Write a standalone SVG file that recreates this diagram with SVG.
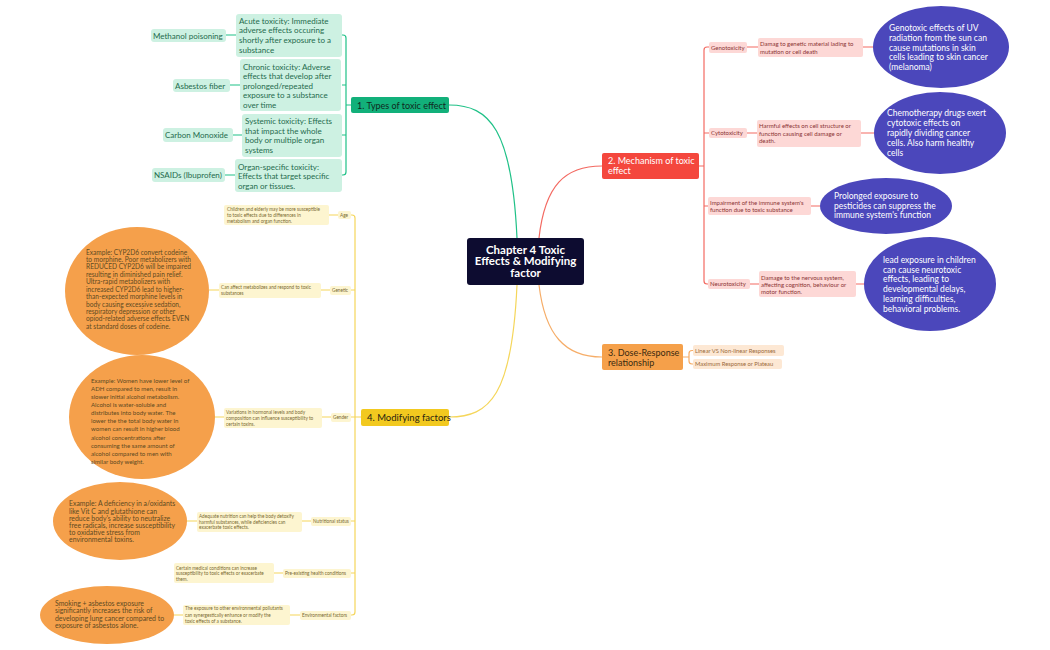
<svg xmlns="http://www.w3.org/2000/svg" width="1050" height="650" viewBox="0 0 1050 650">
<style>
text{font-family:Lato,"Noto Sans","Liberation Sans",sans-serif}
.ln{fill:none;stroke-width:1.2}
.g{stroke:#1fc187}.r{stroke:#f36a62}.o{stroke:#f6ad68}.y{stroke:#f5d65a}
.gb{fill:#12b07a}.gl{fill:#cdf1e2}.gt{fill:#1f6b4d;font-size:8px}
.rb{fill:#f4473d}.rl{fill:#fdd8d6}.rt{fill:#8b3434;font-size:6px}
.ob{fill:#f5a04a}.ol{fill:#fde8d4}.ot{fill:#9a6a3a;font-size:5.8px}
.yb{fill:#f2c91f}.yl{fill:#fdf5d0}.yt{fill:#7a6a30;font-size:4.7px}
.bt{font-size:9px}
.pe{fill:#4b47bb}.pt{fill:#ffffff;font-size:8.5px}
.oe{fill:#f5a04b}.et{fill:#5e4a22;font-size:6.1px}
</style>
<rect width="1050" height="650" fill="#ffffff"/>
<g id="connectors">
<path class="ln g" d="M517,238 C512,130 490,105 449,105"/>
<path class="ln r" d="M539,238 C545,185 565,166 602,166"/>
<path class="ln o" d="M539,285 C545,335 565,357 602,357"/>
<path class="ln y" d="M517,285 C512,395 490,417 449,417"/>
<path class="ln g" d="M342,35 h1 q3,0 3,3 V172 q0,3 -3,3 h-1 M342,85 H346 M342,135 H346 M346,105 H351 M226,35 H236 M230,85 H240 M233,135 H242 M225,175 H235"/>
<path class="ln r" d="M709,47 h-2 q-3,0 -3,3 V281 q0,3 3,3 h1 M704,133 H709 M704,206 H708 M699,166 H704 M747,47 H758 M747,133 H757 M750,284 H759 M863,47 H873 M861,133 H874 M811,206 H820 M856,284 H865"/>
<path class="ln o" d="M693,350.5 h-1 q-3,0 -3,3 V361 q0,3 3,3 h1 M683,357 H689"/>
<path class="ln y" d="M351,215 h1 q3,0 3,3 V612 q0,3 -3,3 h-1 M351,290 H355 M351,417 H355 M351,521 H355 M351,573 H355 M355,417 H361 M329,215 H338 M321,290 H330 M219,290 H209 M322,417 H331 M224,417 H215 M302,521 H311 M197,521 H187 M274,573 H283 M290,615 H300 M183,615 H174"/>
</g>
<g id="center">
<rect x="467" y="238" width="117" height="47" rx="3" fill="#0d0c30"/>
<text fill="#ffffff" font-size="11.5" font-weight="bold" text-anchor="middle"><tspan x="525.5" y="253.5">Chapter 4 Toxic</tspan><tspan x="525.5" y="265">Effects &amp; Modifying</tspan><tspan x="525.5" y="276.7">factor</tspan></text>
</g>
<g id="types">
<rect class="gb" x="351" y="97" width="98" height="16" rx="2"/>
<text class="bt" fill="#10291d" x="357" y="108.5">1. Types of toxic effect</text>
</g>
<g id="acute">
<rect class="gl" x="236" y="14" width="106" height="43" rx="3"/>
<text class="gt"><tspan x="239" y="23.5">Acute toxicity: Immediate</tspan><tspan x="239" y="33.3">adverse effects occuring</tspan><tspan x="239" y="43">shortly after exposure to a</tspan><tspan x="239" y="52.8">substance</tspan></text>
</g>
<g id="chronic">
<rect class="gl" x="240" y="59" width="101" height="52" rx="3"/>
<text class="gt"><tspan x="243" y="69.5">Chronic toxicity: Adverse</tspan><tspan x="243" y="79">effects that develop after</tspan><tspan x="243" y="88.5">prolonged/repeated</tspan><tspan x="243" y="98">exposure to a substance</tspan><tspan x="243" y="107.7">over time</tspan></text>
</g>
<g id="systemic">
<rect class="gl" x="242" y="114" width="100" height="43" rx="3"/>
<text class="gt"><tspan x="245" y="124">Systemic toxicity: Effects</tspan><tspan x="245" y="133.7">that impact the whole</tspan><tspan x="245" y="143.3">body or multiple organ</tspan><tspan x="245" y="153">systems</tspan></text>
</g>
<g id="organ">
<rect class="gl" x="235" y="159" width="107" height="33" rx="3"/>
<text class="gt"><tspan x="238" y="169.7">Organ-specific toxicity:</tspan><tspan x="238" y="179.3">Effects that target specific</tspan><tspan x="238" y="188.7">organ or tissues.</tspan></text>
</g>
<g id="methanol"><rect class="gl" x="151" y="29" width="75" height="13" rx="3"/><text class="gt" x="153" y="38.5">Methanol poisoning</text></g>
<g id="asbestos"><rect class="gl" x="173" y="79" width="57" height="13" rx="3"/><text class="gt" x="175" y="88.5">Asbestos fiber</text></g>
<g id="carbon"><rect class="gl" x="163" y="128" width="70" height="14" rx="3"/><text class="gt" x="165" y="138">Carbon Monoxide</text></g>
<g id="nsaids"><rect class="gl" x="152" y="168" width="73" height="14" rx="3"/><text class="gt" x="154" y="178">NSAIDs (Ibuprofen)</text></g>

<g id="mechanism">
<rect class="rb" x="602" y="153" width="97" height="26" rx="2"/>
<text class="bt" fill="#ffffff"><tspan x="608" y="164">2. Mechanism of toxic</tspan><tspan x="608" y="174">effect</tspan></text>
</g>
<g id="genotoxicity"><rect class="rl" x="709" y="42" width="38" height="11" rx="2"/><text class="rt" x="711" y="49.5">Genotoxicity</text></g>
<g id="geno-desc"><rect class="rl" x="758" y="38" width="105" height="19" rx="2"/><text class="rt"><tspan x="760" y="45.5">Damag to genetic material lading to</tspan><tspan x="760" y="54">mutation or cell death</tspan></text></g>
<g id="geno-ex"><ellipse class="pe" cx="941" cy="47" rx="68" ry="41"/><text class="pt"><tspan x="889" y="31.3">Genotoxic effects of UV</tspan><tspan x="889" y="40.9">radiation from the sun can</tspan><tspan x="889" y="50.6">cause mutations in skin</tspan><tspan x="889" y="60.3">cells leading to skin cancer</tspan><tspan x="889" y="70">(melanoma)</tspan></text></g>
<g id="cytotoxicity"><rect class="rl" x="709" y="128" width="38" height="10" rx="2"/><text class="rt" x="711" y="135">Cytotoxicity</text></g>
<g id="cyto-desc"><rect class="rl" x="757" y="120" width="104" height="27" rx="2"/><text class="rt"><tspan x="759" y="128">Harmful effects on cell structure or</tspan><tspan x="759" y="135.5">function causing cell damage or</tspan><tspan x="759" y="143">death.</tspan></text></g>
<g id="cyto-ex"><ellipse class="pe" cx="940" cy="133" rx="66" ry="41"/><text class="pt"><tspan x="887" y="116.3">Chemotherapy drugs exert</tspan><tspan x="887" y="126.2">cytotoxic effects on</tspan><tspan x="887" y="136.1">rapidly dividing cancer</tspan><tspan x="887" y="146">cells. Also harm healthy</tspan><tspan x="887" y="155.9">cells</tspan></text></g>
<g id="immune"><rect class="rl" x="708" y="197" width="103" height="18" rx="2"/><text class="rt"><tspan x="710" y="205">Impairment of the immune system's</tspan><tspan x="710" y="211.7">function due to toxic substance</tspan></text></g>
<g id="immune-ex"><ellipse class="pe" cx="886" cy="206" rx="66" ry="28"/><text class="pt"><tspan x="834" y="199">Prolonged exposure to</tspan><tspan x="834" y="208.7">pesticides can suppress the</tspan><tspan x="834" y="218.3">immune system's function</tspan></text></g>
<g id="neurotoxicity"><rect class="rl" x="708" y="279" width="42" height="10" rx="2"/><text class="rt" x="710" y="286">Neurotoxicity</text></g>
<g id="neuro-desc"><rect class="rl" x="759" y="271" width="97" height="26" rx="2"/><text class="rt"><tspan x="761" y="279.5">Damage to the nervous system,</tspan><tspan x="761" y="286.7">affecting cognition, behaviour or</tspan><tspan x="761" y="294">motor function.</tspan></text></g>
<g id="neuro-ex"><ellipse class="pe" cx="930" cy="284" rx="66" ry="47"/><text class="pt"><tspan x="883" y="263">lead exposure in children</tspan><tspan x="883" y="272.7">can cause neurotoxic</tspan><tspan x="883" y="282.4">effects, leading to</tspan><tspan x="883" y="292.1">developmental delays,</tspan><tspan x="883" y="301.8">learning difficulties,</tspan><tspan x="883" y="311.5">behavioral problems.</tspan></text></g>

<g id="dose">
<rect class="ob" x="602" y="344" width="81" height="26" rx="2"/>
<text class="bt" fill="#3a2a10"><tspan x="608" y="355.5">3. Dose-Response</tspan><tspan x="608" y="365.5">relationship</tspan></text>
</g>
<g id="linear"><rect class="ol" x="693" y="345" width="91" height="11" rx="2"/><text class="ot" x="695" y="352.7">Linear VS Non-linear Responses</text></g>
<g id="maximum"><rect class="ol" x="693" y="359" width="89" height="10" rx="2"/><text class="ot" x="695" y="366.3">Maximum Response or Plateau</text></g>

<g id="modifying">
<rect class="yb" x="361" y="409" width="88" height="17" rx="2"/>
<text fill="#2a2410" font-size="9.5" x="367" y="421">4. Modifying factors</text>
</g>
<g id="age"><rect class="yl" x="338" y="211" width="13" height="8" rx="2"/><text class="yt" x="340" y="216.7">Age</text></g>
<g id="age-desc"><rect class="yl" x="224" y="205" width="105" height="20" rx="2"/><text class="yt"><tspan x="227" y="211">Children and elderly may be more susceptible</tspan><tspan x="227" y="216.9">to toxic effects due to differences in</tspan><tspan x="227" y="222.8">metabolism and organ function.</tspan></text></g>
<g id="genetic"><rect class="yl" x="330" y="286" width="21" height="9" rx="2"/><text class="yt" x="332" y="292">Genetic</text></g>
<g id="genetic-desc"><rect class="yl" x="219" y="283" width="102" height="15" rx="2"/><text class="yt"><tspan x="221" y="289">Can affect metabolizes and respond to toxic</tspan><tspan x="221" y="295.3">substances</tspan></text></g>
<g id="genetic-ex"><ellipse class="oe" cx="137" cy="291" rx="72" ry="64"/><text class="et" style="font-size:6.6px"><tspan x="86" y="254.5">Example: CYP2D6 convert codeine</tspan><tspan x="86" y="261.9">to morphine. Poor metabolizers with</tspan><tspan x="86" y="269.4">REDUCED CYP2D6 will be impaired</tspan><tspan x="86" y="276.8">resulting in diminished pain relief.</tspan><tspan x="86" y="284.2">Ultra-rapid metabolizers with</tspan><tspan x="86" y="291.7">increased CYP2D6 lead to higher-</tspan><tspan x="86" y="299.1">than-expected morphine levels in</tspan><tspan x="86" y="306.5">body causing excessive sedation,</tspan><tspan x="86" y="313.9">respiratory depression or other</tspan><tspan x="86" y="321.4">opiod-related adverse effects EVEN</tspan><tspan x="86" y="328.8">at standard doses of codeine.</tspan></text></g>
<g id="gender"><rect class="yl" x="331" y="413" width="20" height="9" rx="2"/><text class="yt" x="333" y="419">Gender</text></g>
<g id="gender-desc"><rect class="yl" x="224" y="408" width="98" height="20" rx="2"/><text class="yt"><tspan x="226" y="413.5">Variations in hormonal levels and body</tspan><tspan x="226" y="419.5">composition can influence susceptibility to</tspan><tspan x="226" y="425.5">certain toxins.</tspan></text></g>
<g id="gender-ex"><ellipse class="oe" cx="142" cy="417" rx="73" ry="62"/><text class="et"><tspan x="91" y="383">Example: Women have lower level of</tspan><tspan x="91" y="391.1">ADH compared to men, result in</tspan><tspan x="91" y="399.1">slower initial alcohol metabolism.</tspan><tspan x="91" y="407.2">Alcohol is water-soluble and</tspan><tspan x="91" y="415.3">distributes into body water. The</tspan><tspan x="91" y="423.4">lower the the total body water in</tspan><tspan x="91" y="431.4">women can result in higher blood</tspan><tspan x="91" y="439.5">alcohol concentrations after</tspan><tspan x="91" y="447.6">consuming the same amount of</tspan><tspan x="91" y="455.6">alcohol compared to men with</tspan><tspan x="91" y="463.7">similar body weight.</tspan></text></g>
<g id="nutrition"><rect class="yl" x="311" y="517" width="40" height="9" rx="2"/><text class="yt" x="313" y="523">Nutritional status</text></g>
<g id="nutrition-desc"><rect class="yl" x="197" y="512" width="105" height="20" rx="2"/><text class="yt"><tspan x="199" y="517.8">Adequate nutrition can help the body detoxify</tspan><tspan x="199" y="523.5">harmful substances, while deficiencies can</tspan><tspan x="199" y="529.2">exacerbate toxic effects.</tspan></text></g>
<g id="nutrition-ex"><ellipse class="oe" cx="120" cy="521" rx="67" ry="39"/><text class="et" style="font-size:6.9px"><tspan x="69" y="506.4">Example: A deficiency in a/oxidants</tspan><tspan x="69" y="513.6">like Vit C and glutathione can</tspan><tspan x="69" y="520.8">reduce body's ability to neutralize</tspan><tspan x="69" y="528">free radicals, increase susceptibility</tspan><tspan x="69" y="535.2">to oxidative stress from</tspan><tspan x="69" y="542.4">environmental toxins.</tspan></text></g>
<g id="preexisting"><rect class="yl" x="283" y="569" width="68" height="9" rx="2"/><text class="yt" x="285" y="575">Pre-existing health conditions</text></g>
<g id="preexisting-desc"><rect class="yl" x="174" y="563" width="100" height="20" rx="2"/><text class="yt"><tspan x="176" y="569.5">Certain medical conditions can increase</tspan><tspan x="176" y="575.2">susceptibility to toxic effects or exacerbate</tspan><tspan x="176" y="580.9">them.</tspan></text></g>
<g id="environmental"><rect class="yl" x="300" y="611" width="51" height="9" rx="2"/><text class="yt" x="302" y="617">Environmental factors</text></g>
<g id="environmental-desc"><rect class="yl" x="183" y="605" width="107" height="20" rx="2"/><text class="yt"><tspan x="185" y="610.3">The exposure to other environmental pollutants</tspan><tspan x="185" y="616.5">can synergestically enhance or modify the</tspan><tspan x="185" y="622.6">toxic effects of a substance.</tspan></text></g>
<g id="environmental-ex"><ellipse class="oe" cx="107" cy="615" rx="67" ry="29"/><text class="et" style="font-size:6.9px"><tspan x="55" y="605.6">Smoking + asbestos exposure</tspan><tspan x="55" y="613.2">significantly increases the risk of</tspan><tspan x="55" y="620.7">developing lung cancer compared to</tspan><tspan x="55" y="628.3">exposure of asbestos alone.</tspan></text></g>
</svg>
